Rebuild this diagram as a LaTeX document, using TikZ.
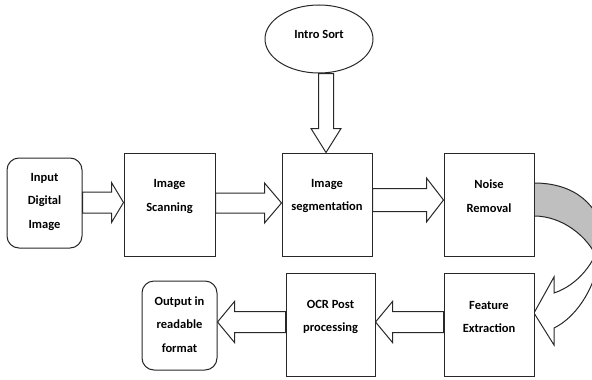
\documentclass[tikz,border=0pt]{standalone}
\usepackage{fontspec}
\setmainfont{Carlito}
\usetikzlibrary{shapes.geometric,calc}
\definecolor{ln}{RGB}{40,40,40}
\definecolor{bandgray}{RGB}{191,191,191}
\tikzset{
  box/.style={draw=ln, line width=1pt, fill=white, inner sep=0pt},
  rbox/.style={box, rounded corners=12pt},
  txt/.style={font=\bfseries\fontsize{12.5}{23.5}\selectfont, align=center, inner sep=0pt, text=black},
  barrow/.style={draw=ln, line width=1pt, fill=white, line join=miter},
}
% #1 start, #2 tip, #3 shaft half, #4 head half, #5 head length
\newcommand\blockR[5]{\draw[barrow] let \p1=(#1), \p2=(#2) in
  (\x1,\y2+#3pt) -- (\x2-#5pt,\y2+#3pt) -- (\x2-#5pt,\y2+#4pt) -- (\x2,\y2)
  -- (\x2-#5pt,\y2-#4pt) -- (\x2-#5pt,\y2-#3pt) -- (\x1,\y2-#3pt) -- cycle;}
\newcommand\blockL[5]{\draw[barrow] let \p1=(#1), \p2=(#2) in
  (\x1,\y2+#3pt) -- (\x2+#5pt,\y2+#3pt) -- (\x2+#5pt,\y2+#4pt) -- (\x2,\y2)
  -- (\x2+#5pt,\y2-#4pt) -- (\x2+#5pt,\y2-#3pt) -- (\x1,\y2-#3pt) -- cycle;}
\newcommand\blockD[5]{\draw[barrow] let \p1=(#1), \p2=(#2) in
  (\x2+#3pt,\y1) -- (\x2+#3pt,\y2+#5pt) -- (\x2+#4pt,\y2+#5pt) -- (\x2,\y2)
  -- (\x2-#4pt,\y2+#5pt) -- (\x2-#3pt,\y2+#5pt) -- (\x2-#3pt,\y1) -- cycle;}
\begin{document}
\begin{tikzpicture}[x=1pt,y=-1pt]
\useasboundingbox (0,0) rectangle (592,380);
\clip (0,0) rectangle (592,380);

% curved arrow from Noise Removal to Feature Extraction
\coordinate (c1) at (534,183);
\coordinate (c2) at (534,216);
\coordinate (c3) at (534,313);
\fill[bandgray] (c1) .. controls (575,183) and (600,205) .. (605,240) -- (605,262)
  -- (598,260) .. controls (588,236) and (562,216) .. (c2) -- cycle;
\draw[ln, line width=1pt] (c1) .. controls (575,183) and (600,205) .. (605,240);
\draw[ln, line width=1pt] (c2) .. controls (562,216) and (588,236) .. (598,260);
\filldraw[barrow] (600,240) .. controls (596,262) and (578,285) .. (554,293)
  -- (554,277) -- (c3) -- (554,345) -- (554,328)
  .. controls (575,318) and (594,290) .. (598,262);

% boxes
\node[rbox, minimum width=75pt, minimum height=90pt] (in) at (44.5,203) {};
\node[box, minimum width=91pt, minimum height=103pt] (scan) at (169.5,204.5) {};
\node[box, minimum width=90pt, minimum height=103pt] (seg) at (327,204.5) {};
\node[box, minimum width=90pt, minimum height=103pt] (noise) at (489,204.5) {};
\node[box, minimum width=90pt, minimum height=103pt] (feat) at (489,324.5) {};
\node[box, minimum width=89pt, minimum height=103pt] (ocr) at (330.5,324.5) {};
\node[rbox, minimum width=75pt, minimum height=89pt] (out) at (179.5,325.5) {};
\node[ellipse, draw=ln, line width=1pt, fill=white, minimum width=108pt, minimum height=68pt, inner sep=0pt] (ell) at (319,39) {};

% texts
\node[txt] (tin) at (44.5,202) {Input\\Digital\\Image};
\node[txt] (tscan) at (169.5,196.5) {Image\\Scanning};
\node[txt] (tseg) at (327,196) {Image\\segmentation};
\node[txt] (tnoise) at (489,196) {Noise\\Removal};
\node[txt] (tfeat) at (489,317) {Feature\\Extraction};
\node[txt] (tocr) at (330.5,317) {OCR Post\\processing};
\node[txt] (tout) at (179.5,324.5) {Output in\\readable\\format};
\node[txt] (tell) at (319,34) {Intro Sort};

% arrow rows
\coordinate (r1) at (0,202.5);
\coordinate (r2) at (0,203);
\coordinate (r3) at (0,200);
\coordinate (r4) at (0,322);
\coordinate (dtip) at (326,0);

\blockR{in.east |- r1}{scan.west |- r1}{10.5}{20}{12}
\blockR{scan.east |- r2}{seg.west |- r2}{10}{20}{17}
\blockR{seg.east |- r3}{noise.west |- r3}{11.5}{22}{17}
\blockL{feat.west |- r4}{ocr.east |- r4}{10.5}{20.5}{17}
\blockL{ocr.west |- r4}{out.east |- r4}{10.5}{20.5}{17}
\blockD{dtip |- ell.south}{dtip |- seg.north}{7.5}{15}{24}
\end{tikzpicture}
\end{document}
